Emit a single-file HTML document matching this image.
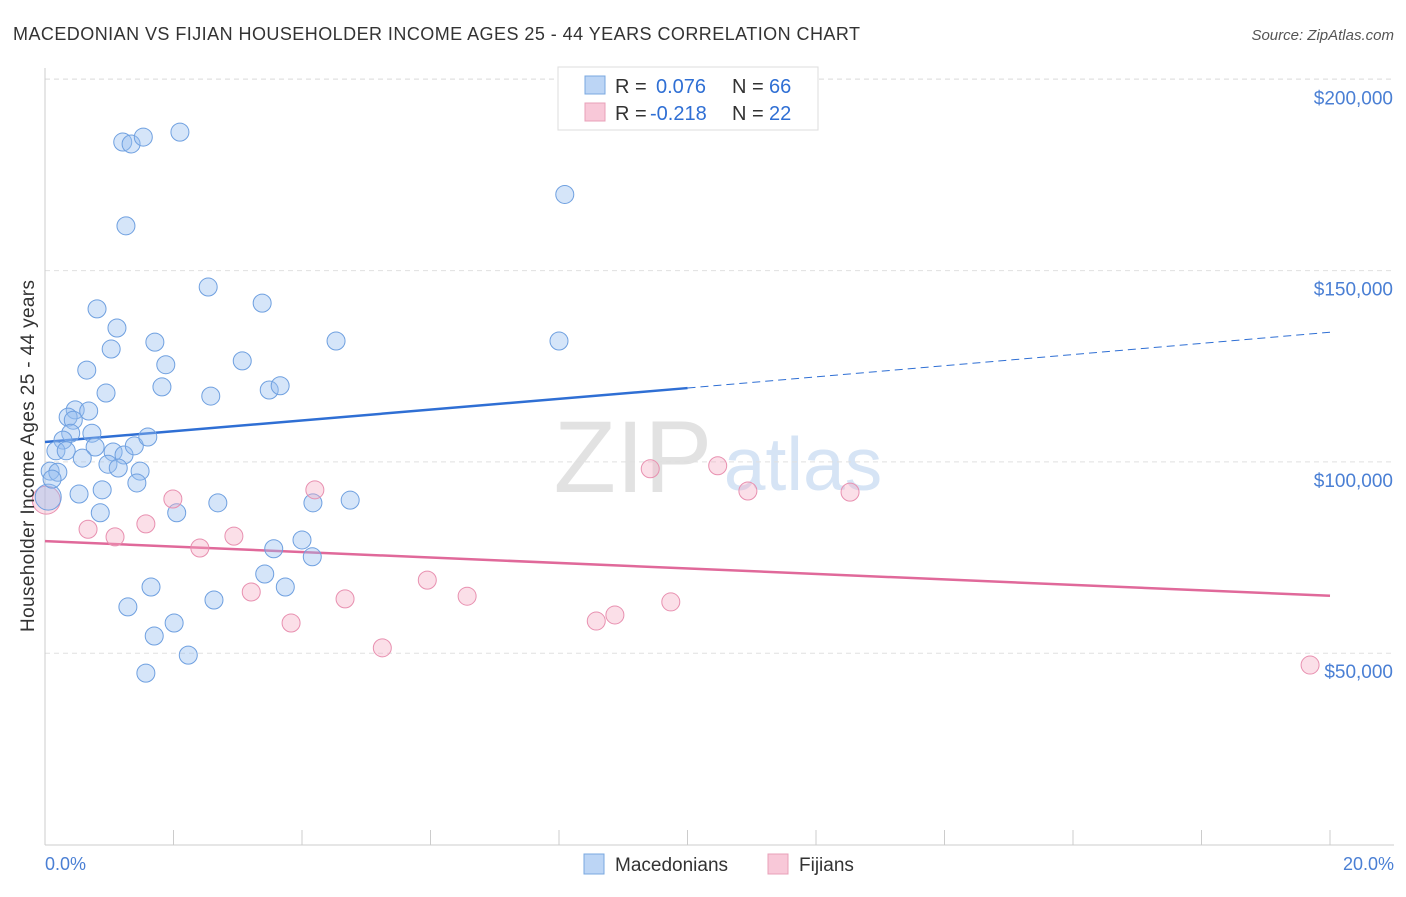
<!DOCTYPE html>
<html><head><meta charset="utf-8"><style>
body{margin:0;background:#fff;font-family:"Liberation Sans",sans-serif;}
svg text{font-family:"Liberation Sans",sans-serif;}
</style></head><body>
<svg width="1406" height="892" xmlns="http://www.w3.org/2000/svg">
<text x="13" y="40" font-size="18" fill="#333" textLength="847">MACEDONIAN VS FIJIAN HOUSEHOLDER INCOME AGES 25 - 44 YEARS CORRELATION CHART</text>
<text x="1394" y="40" font-size="15" fill="#555" font-style="italic" text-anchor="end">Source: ZipAtlas.com</text>
<g>
<text x="633" y="492" font-size="102" fill="#e2e2e2" text-anchor="middle" font-family="Liberation Serif">ZIP</text>
<text x="803" y="490" font-size="75" fill="#d6e4f5" text-anchor="middle">atlas</text>
</g>
<g id="grid"></g>
<g id="axes"></g>
<g id="lines"></g>
<g id="pts"></g>
<text x="34" y="456" font-size="19" fill="#333" text-anchor="middle" textLength="352" transform="rotate(-90 34 456)">Householder Income Ages 25 - 44 years</text>
<text x="45" y="870" font-size="18" fill="#4a7fd4">0.0%</text>
<text x="1394" y="870" font-size="18" fill="#4a7fd4" text-anchor="end">20.0%</text>
<g>
<rect x="558" y="67" width="260" height="63" fill="#fff" stroke="#ddd"/>
<rect x="585" y="76" width="20" height="18" fill="#bcd5f5" stroke="#7aa8e0"/>
<rect x="585" y="103" width="20" height="18" fill="#f8c8d8" stroke="#e8a0b8"/>
<text x="615" y="93" font-size="20" fill="#333">R = <tspan x="656" fill="#2f6fd4">0.076</tspan><tspan x="732">N = </tspan><tspan x="769" fill="#2f6fd4">66</tspan></text>
<text x="615" y="120" font-size="20" fill="#333">R = <tspan x="650" fill="#2f6fd4">-0.218</tspan><tspan x="732">N = </tspan><tspan x="769" fill="#2f6fd4">22</tspan></text>
</g>
<g>
<rect x="584" y="854" width="20" height="20" fill="#bcd5f5" stroke="#7aa8e0"/>
<text x="615" y="871" font-size="19" fill="#333">Macedonians</text>
<rect x="768" y="854" width="20" height="20" fill="#f8c8d8" stroke="#e8a0b8"/>
<text x="799" y="871" font-size="19" fill="#333">Fijians</text>
</g>
</svg>
<script>
const yTicks=[50000,100000,150000,200000];
const yTickLabels=["$50,000","$100,000","$150,000","$200,000"];
const xTicks=[0,2,4,6,8,10,12,14,16,18,20];
const blueX=[1.21,1.34,1.53,2.10,1.26,8.09,2.54,3.38,0.81,1.12,1.03,1.71,1.88,3.07,4.53,8.00,0.65,0.95,1.82,2.58,3.49,3.66,0.47,0.68,0.36,0.44,0.40,0.73,0.28,0.17,0.33,0.78,1.06,1.23,1.39,1.60,0.98,1.14,0.58,1.48,0.08,0.20,0.11,1.43,0.53,0.89,2.69,4.17,4.75,0.86,2.05,3.56,4.00,4.16,3.42,3.74,1.65,1.29,2.63,2.01,1.70,2.23,1.57];
const blueY=[183600,183100,184900,186200,161700,169900,145700,141500,140000,135000,129500,131300,125400,126400,131600,131600,124000,118000,119600,117200,118800,119900,113600,113300,111700,110900,107500,107500,105700,102900,102900,103900,102600,101800,104200,106500,99400,98400,101000,97600,97600,97300,95500,94500,91600,92700,89300,89300,90000,86700,86700,77300,79600,75200,70700,67300,67300,62100,63900,57900,54500,49500,44800];
const pinkX=[0.67,1.09,1.57,1.99,2.41,2.94,3.21,3.83,4.20,4.67,5.25,5.95,6.57,8.58,8.87,9.42,9.74,10.47,10.94,12.53,19.69];
const pinkY=[82400,80400,83800,90300,77500,80600,66000,57900,92700,64200,51400,69100,64900,58400,60000,98200,63400,99000,92400,92100,46900];
const bigBlue=[0.05,90800], bigPink=[0.02,90000];
const blueTrend=[105200,119300,133900]; // at 0%, 10%, 20%
const pinkTrend=[79300,65000]; // at 0%, 20%
const X=v=>45+v*64.25, Y=v=>844.5-v/50000*191.3;
const NS="http://www.w3.org/2000/svg";
function mk(p,t,a){const e=document.createElementNS(NS,t);for(const k in a)e.setAttribute(k,a[k]);document.getElementById(p).appendChild(e);return e;}
yTicks.forEach((v,i)=>{
 const g=mk('grid','line',{x1:45,x2:1394,y1:Y(v),y2:Y(v),stroke:'#e0e0e0','stroke-dasharray':'5,4'});
 
 
 const t=mk('grid','text',{x:1393,y:Y(v)+25,'font-size':19,fill:'#4a7fd4','text-anchor':'end'});
 t.textContent=yTickLabels[i];
 
 
});
{const g=mk('grid','line',{x1:45,x2:1394,y1:79,y2:79,stroke:'#e0e0e0','stroke-dasharray':'5,4'});
 
 }
const ax=mk('axes','line',{x1:45,x2:45,y1:68,y2:845,stroke:'#ccc'});


const bx=mk('axes','line',{x1:45,x2:1394,y1:845,y2:845,stroke:'#ccc'});


xTicks.forEach(v=>{const t=mk('axes','line',{x1:X(v),x2:X(v),y1:830,y2:845,stroke:'#ccc'});
 
 });
let l=mk('lines','line',{x1:X(0),y1:Y(blueTrend[0]),x2:X(10),y2:Y(blueTrend[1]),stroke:'#2f6fd4','stroke-width':2.5});


l=mk('lines','line',{x1:X(10),y1:Y(blueTrend[1]),x2:X(20),y2:Y(blueTrend[2]),stroke:'#2f6fd4','stroke-width':1,'stroke-dasharray':'8,5'});


l=mk('lines','line',{x1:X(0),y1:Y(pinkTrend[0]),x2:X(20),y2:Y(pinkTrend[1]),stroke:'#e0699a','stroke-width':2.5});


function pt(x,y,r,blue,name){const c=mk('pts','circle',{cx:X(x),cy:Y(y),r:r,fill:blue?'rgba(150,190,240,0.4)':'rgba(245,170,195,0.38)',stroke:blue?'#6fa0e0':'#e890b0','stroke-width':1});
 
 }
pt(bigPink[0],bigPink[1],14,false,'fijian-point');
pt(bigBlue[0],bigBlue[1],13,true,'macedonian-point');
blueX.forEach((x,i)=>pt(x,blueY[i],9,true,'macedonian-point'));
pinkX.forEach((x,i)=>pt(x,pinkY[i],9,false,'fijian-point'));
</script>
</body></html>
